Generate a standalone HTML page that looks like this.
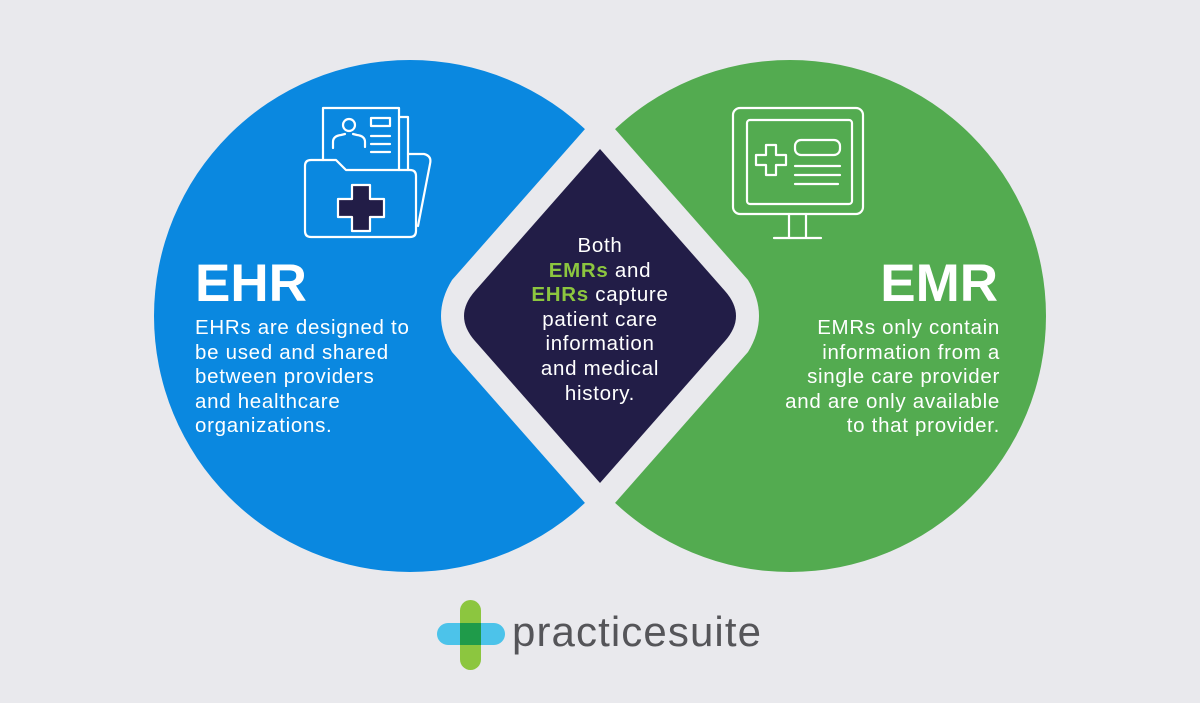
<!DOCTYPE html>
<html><head><meta charset="utf-8"><style>
html,body{margin:0;padding:0;background:#e9e9ed;}
body{width:1200px;height:703px;overflow:hidden;position:relative;font-family:"Liberation Sans",Arial,sans-serif;}
svg{position:absolute;left:0;top:0;}
.t{font-size:20.5px;line-height:24.6px;letter-spacing:0.7px;white-space:nowrap;color:#fff;position:absolute;}
</style></head><body>
<svg width="1200" height="703" viewBox="0 0 1200 703">
  <rect width="1200" height="703" fill="#e9e9ed"/>
  <circle cx="410" cy="316" r="256" fill="#0a88e0"/>
  <circle cx="790" cy="316" r="256" fill="#53ab50"/>
  <!-- gap shape -->
  <path d="M600,112 L748,280 Q770,316 748,352 L600,520 L452,352 Q430,316 452,280 Z" fill="#e9e9ed"/>
  <!-- dark diamond -->
  <path d="M600,149 L725,291 Q747,316 725,341 L600,483 L475,341 Q453,316 475,291 Z" fill="#221d47"/>

  <!-- folder icon -->
  <g fill="none" stroke="#fff" stroke-width="2.2" stroke-linejoin="round" stroke-linecap="round">
    <path d="M399,117 L408,117 L408,170"/>
    <path d="M323,160 L323,108 L399,108 L399,170"/>
    <circle cx="349" cy="125" r="6"/>
    <path d="M333,148 L333,142 Q333,136 341,135 L345,134 M353,134 L357,135 Q365,136 365,142 L365,147"/>
    <rect x="371" y="118" width="19" height="8"/>
    <path d="M371,136 H390 M371,144 H390 M371,152 H390"/>
    <path d="M408,154 L424,154 Q432,156 430,164 L418,226"/>
    <path d="M311,160 L336,160 L346,170 L410,170 Q416,170 416,176 L416,231 Q416,237 410,237 L311,237 Q305,237 305,231 L305,166 Q305,160 311,160 Z"/>
  </g>
  <path d="M352,185 H370 V199 H384 V217 H370 V231 H352 V217 H338 V199 H352 Z" fill="#221d47" stroke="#fff" stroke-width="2.2" stroke-linejoin="round"/>

  <!-- monitor icon -->
  <g fill="none" stroke="#fff" stroke-width="2.2" stroke-linejoin="round" stroke-linecap="round">
    <rect x="733" y="108" width="130" height="106" rx="7"/>
    <rect x="747" y="120" width="105" height="84" rx="3"/>
    <path d="M789,214 V237 M806,214 V237 M774,238 H821"/>
    <path d="M766,145 H776 V155 H786 V165 H776 V175 H766 V165 H756 V155 H766 Z"/>
    <rect x="795" y="140" width="45" height="15" rx="6"/>
    <path d="M795,166 H840 M795,175 H840 M795,184 H838"/>
  </g>

  <!-- logo -->
  <rect x="437" y="623" width="68" height="22" rx="11" fill="#4cc3ea"/>
  <rect x="460" y="600" width="21" height="70" rx="10.5" fill="#8cc63f"/>
  <rect x="460" y="623" width="21" height="22" fill="#1f9b4a"/>
</svg>

<div style="position:absolute;left:195px;top:254px;color:#fff;font-weight:bold;font-size:53px;line-height:60px;letter-spacing:0px;">EHR</div>
<div class="t" style="left:195px;top:316px;">EHRs are designed to<br>be used and shared<br>between providers<br>and healthcare<br>organizations.</div>

<div style="position:absolute;right:202px;top:254px;color:#fff;font-weight:bold;font-size:53px;line-height:60px;letter-spacing:0px;text-align:right;">EMR</div>
<div class="t" style="right:200px;top:316px;text-align:right;">EMRs only contain<br>information from a<br>single care provider<br>and are only available<br>to that provider.</div>

<div class="t" style="left:460px;width:280px;top:234px;text-align:center;">Both<br><b style="color:#8cc63f">EMRs</b> and<br><b style="color:#8cc63f">EHRs</b> capture<br>patient care<br>information<br>and medical<br>history.</div>

<div style="position:absolute;left:512px;top:607px;color:#555559;font-size:42px;line-height:50px;letter-spacing:1.1px;">practicesuite</div>
</body></html>
